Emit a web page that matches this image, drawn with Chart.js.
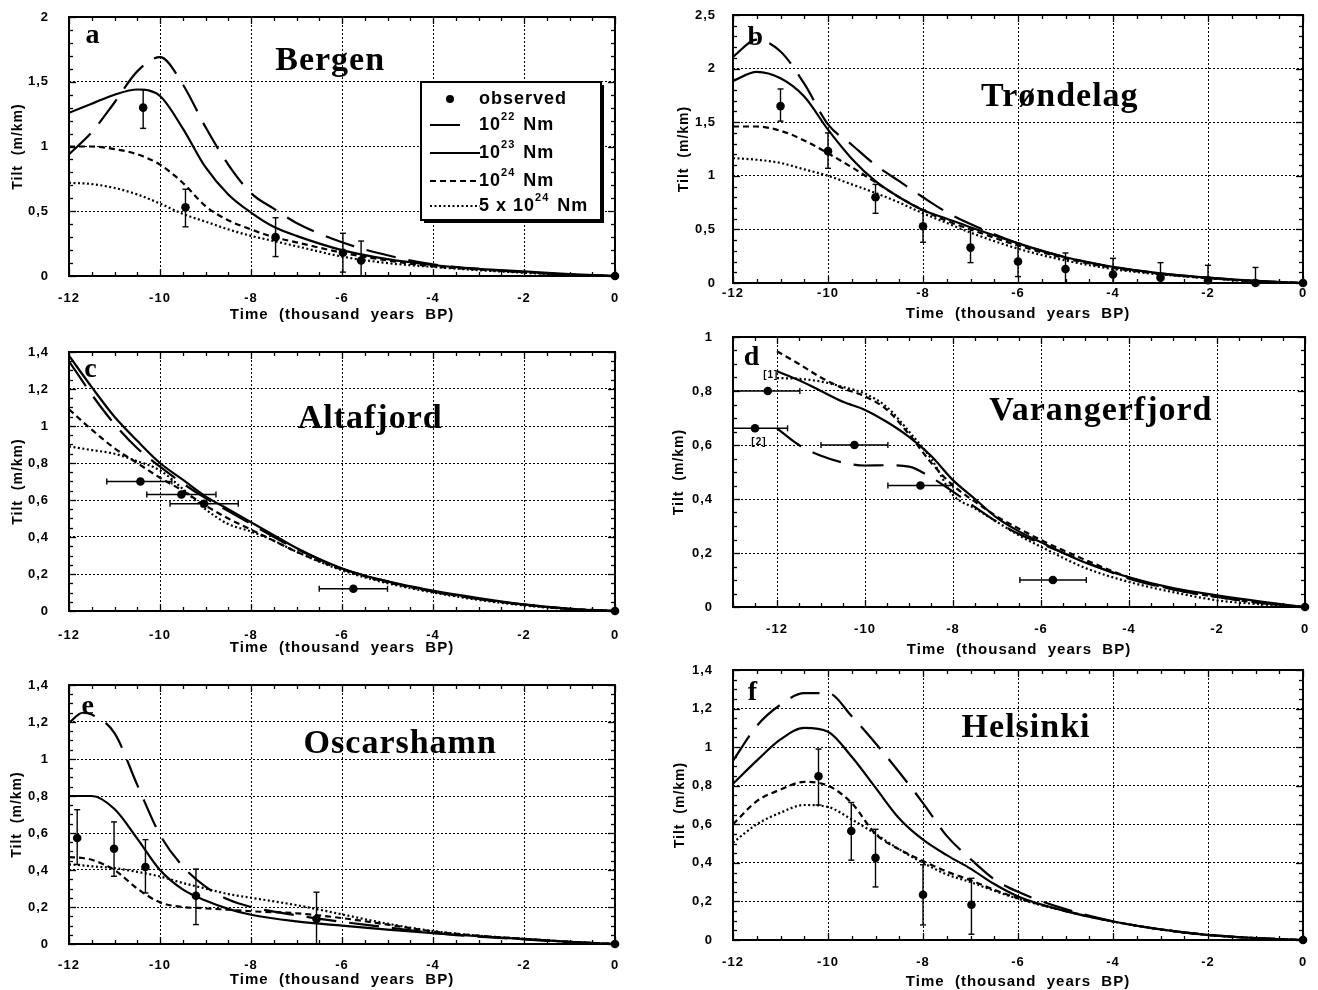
<!DOCTYPE html>
<html>
<head>
<meta charset="utf-8">
<title>Tilt vs time</title>
<script src="https://cdn.jsdelivr.net/npm/chart.js@4.4.1/dist/chart.umd.min.js"></script>
<style>
  html, body { margin: 0; padding: 0; background: #fff; }
  #page { position: relative; width: 1318px; height: 990px; overflow: hidden; background: #fff; }
  #page canvas { position: absolute; }
</style>
</head>
<body>
<div id="page"></div>
<script>
// ---- ticks ----
const xTicks12 = [-12, -10, -8, -6, -4, -2, 0];
const yTicks2 = [0, 0.5, 1, 1.5, 2];
const yTicks25 = [0, 0.5, 1, 1.5, 2, 2.5];
const yTicks14 = [0, 0.2, 0.4, 0.6, 0.8, 1, 1.2, 1.4];
const yTicks1 = [0, 0.2, 0.4, 0.6, 0.8, 1];

// ---- a: Bergen ----
const bergenX = [-12, -11.5, -11, -10.5, -10, -9.5, -9, -8.5, -8, -7.5, -7, -6, -5, -4, -3, -2, -1, 0];
const bergen22 = [0.94, 1.11, 1.34, 1.58, 1.69, 1.48, 1.15, 0.86, 0.64, 0.52, 0.41, 0.26, 0.16, 0.09, 0.055, 0.03, 0.01, 0];
const bergen23 = [1.26, 1.33, 1.40, 1.44, 1.39, 1.14, 0.84, 0.63, 0.49, 0.38, 0.31, 0.20, 0.13, 0.085, 0.055, 0.035, 0.015, 0];
const bergen24 = [1.0, 1.0, 0.98, 0.94, 0.86, 0.72, 0.54, 0.43, 0.36, 0.30, 0.26, 0.18, 0.12, 0.075, 0.05, 0.03, 0.01, 0];
const bergen5x24 = [0.72, 0.71, 0.68, 0.63, 0.56, 0.48, 0.42, 0.36, 0.31, 0.27, 0.23, 0.15, 0.10, 0.07, 0.045, 0.025, 0.01, 0];
const bergenObsX = [-10.37, -9.44, -7.46, -5.98, -5.58, 0];
const bergenObsY = [1.30, 0.53, 0.30, 0.18, 0.12, 0];
const bergenObsLo = [1.14, 0.38, 0.15, 0.03, 0.0, null];
const bergenObsHi = [1.44, 0.67, 0.45, 0.33, 0.27, null];

// ---- b: Trøndelag ----
const trondX = [-12, -11.5, -11, -10.5, -10, -9.5, -9, -8.5, -8, -7.5, -7, -6, -5, -4, -3, -2, -1, 0];
const trond22 = [2.11, 2.27, 2.16, 1.86, 1.48, 1.29, 1.10, 0.95, 0.80, 0.66, 0.55, 0.37, 0.24, 0.15, 0.09, 0.05, 0.02, 0];
const trond23 = [1.885, 1.97, 1.91, 1.74, 1.43, 1.16, 0.95, 0.80, 0.68, 0.60, 0.52, 0.37, 0.24, 0.15, 0.09, 0.05, 0.02, 0];
const trond24 = [1.46, 1.46, 1.42, 1.33, 1.21, 1.08, 0.94, 0.80, 0.68, 0.58, 0.50, 0.35, 0.23, 0.14, 0.085, 0.045, 0.015, 0];
const trond5x24 = [1.165, 1.15, 1.12, 1.06, 1.0, 0.92, 0.84, 0.75, 0.65, 0.56, 0.47, 0.32, 0.21, 0.13, 0.08, 0.045, 0.015, 0];
const trondObsX = [-11, -10, -9, -8, -7, -6, -5, -4, -3, -2, -1, 0];
const trondObsY = [1.65, 1.23, 0.80, 0.53, 0.33, 0.20, 0.13, 0.08, 0.05, 0.025, 0, 0];
const trondObsLo = [1.51, 1.07, 0.65, 0.38, 0.19, 0.06, 0, 0, 0, 0, 0, null];
const trondObsHi = [1.81, 1.40, 0.92, 0.68, 0.50, 0.37, 0.28, 0.23, 0.19, 0.165, 0.145, null];

// ---- c: Altafjord ----
const altaX = [-12, -11.5, -11, -10.5, -10, -9.5, -9, -8.5, -8, -7.5, -7, -6, -5, -4, -3, -2, -1, 0];
const alta22 = [1.35, 1.17, 1.01, 0.88, 0.78, 0.69, 0.61, 0.54, 0.47, 0.40, 0.335, 0.23, 0.16, 0.105, 0.065, 0.035, 0.012, 0];
const alta23 = [1.38, 1.21, 1.05, 0.92, 0.80, 0.71, 0.62, 0.55, 0.48, 0.41, 0.34, 0.23, 0.16, 0.11, 0.07, 0.036, 0.012, 0];
const alta24 = [1.09, 0.98, 0.88, 0.80, 0.72, 0.65, 0.57, 0.50, 0.44, 0.38, 0.32, 0.225, 0.155, 0.105, 0.065, 0.033, 0.012, 0];
const alta5x24 = [0.89, 0.87, 0.85, 0.81, 0.76, 0.66, 0.55, 0.47, 0.43, 0.38, 0.32, 0.22, 0.15, 0.10, 0.06, 0.03, 0.01, 0];
const altaObsX = [-10.43, -9.53, -9.03, -5.75, 0];
const altaObsY = [0.70, 0.63, 0.58, 0.12, 0];
const altaObsXLo = [-11.17, -10.29, -9.78, -6.5, null];
const altaObsXHi = [-9.74, -8.77, -8.28, -5.0, null];

// ---- d: Varangerfjord ----
const varX = [-12, -11.5, -11, -10.5, -10, -9.5, -9, -8.5, -8, -7.5, -7, -6.5, -6, -5, -4, -3, -2, -1, 0];
const var22 = [0.662, 0.60, 0.56, 0.535, 0.524, 0.525, 0.52, 0.48, 0.427, 0.37, 0.315, 0.27, 0.235, 0.167, 0.105, 0.065, 0.037, 0.015, 0];
const var23 = [0.873, 0.84, 0.80, 0.76, 0.73, 0.685, 0.63, 0.56, 0.47, 0.40, 0.33, 0.28, 0.24, 0.165, 0.11, 0.07, 0.043, 0.02, 0];
const var24 = [0.947, 0.90, 0.85, 0.81, 0.78, 0.73, 0.64, 0.535, 0.45, 0.39, 0.335, 0.29, 0.248, 0.175, 0.11, 0.065, 0.037, 0.015, 0];
const var5x24 = [0.848, 0.845, 0.835, 0.815, 0.79, 0.74, 0.65, 0.55, 0.415, 0.365, 0.315, 0.265, 0.223, 0.145, 0.093, 0.055, 0.025, 0.01, 0];
const varObsX = [-12.21, -12.5, -10.24, -8.74, -5.73, 0];
const varObsY = [0.80, 0.662, 0.60, 0.45, 0.10, 0];
const varObsXLo = [-13, -13, -11.0, -9.48, -6.48, null];
const varObsXHi = [-11.48, -11.76, -9.48, -8.0, -4.97, null];

// ---- e: Oscarshamn ----
const oscarX = [-12, -11.7, -11.5, -11, -10.5, -10, -9.5, -9, -8.5, -8, -7, -6, -5, -4, -3, -2, -1, 0];
const oscar22 = [1.195, 1.25, 1.24, 1.14, 0.86, 0.59, 0.42, 0.31, 0.24, 0.20, 0.155, 0.12, 0.09, 0.06, 0.04, 0.025, 0.01, 0];
const oscar23 = [0.80, 0.80, 0.80, 0.73, 0.57, 0.40, 0.295, 0.235, 0.19, 0.158, 0.122, 0.099, 0.078, 0.059, 0.042, 0.027, 0.012, 0];
const oscar24 = [0.47, 0.465, 0.455, 0.40, 0.30, 0.225, 0.20, 0.193, 0.185, 0.177, 0.166, 0.14, 0.105, 0.068, 0.045, 0.028, 0.012, 0];
const oscar5x24 = [0.43, 0.425, 0.42, 0.41, 0.39, 0.365, 0.33, 0.30, 0.27, 0.25, 0.21, 0.16, 0.11, 0.07, 0.045, 0.028, 0.012, 0];
const oscarObsX = [-11.82, -11.01, -10.32, -9.21, -6.56, 0];
const oscarObsY = [0.573, 0.515, 0.416, 0.261, 0.135, 0];
const oscarObsLo = [0.43, 0.366, 0.276, 0.105, 0.0, null];
const oscarObsHi = [0.726, 0.66, 0.564, 0.405, 0.28, null];

// ---- f: Helsinki ----
const helX = [-12, -11.5, -11, -10.5, -10, -9.5, -9, -8.5, -8, -7.5, -7, -6.5, -6, -5, -4, -3, -2, -1, 0];
const hel22 = [0.93, 1.11, 1.22, 1.28, 1.28, 1.16, 1.02, 0.87, 0.71, 0.54, 0.42, 0.315, 0.25, 0.16, 0.097, 0.055, 0.027, 0.01, 0];
const hel23 = [0.81, 0.93, 1.04, 1.10, 1.08, 0.95, 0.79, 0.63, 0.52, 0.44, 0.37, 0.29, 0.226, 0.15, 0.096, 0.055, 0.026, 0.01, 0];
const hel24 = [0.60, 0.72, 0.78, 0.82, 0.80, 0.71, 0.55, 0.47, 0.41, 0.355, 0.31, 0.26, 0.217, 0.15, 0.096, 0.055, 0.026, 0.01, 0];
const hel5x24 = [0.505, 0.60, 0.66, 0.70, 0.69, 0.625, 0.55, 0.47, 0.40, 0.34, 0.30, 0.255, 0.214, 0.15, 0.096, 0.055, 0.026, 0.01, 0];
const helObsX = [-10.2, -9.51, -9.0, -8.0, -6.98, 0];
const helObsY = [0.849, 0.565, 0.426, 0.235, 0.183, 0];
const helObsLo = [0.70, 0.414, 0.275, 0.078, 0.03, null];
const helObsHi = [0.99, 0.713, 0.574, 0.39, 0.32, null];

// ---- styles ----
const SANS = "'Liberation Sans', Arial, Helvetica, sans-serif";
const SERIF = "'Liberation Serif', 'Times New Roman', serif";
const MODELS = [
    {label: '10²² Nm', base: '10', sup: '22', dash: [30, 13]},
    {label: '10²³ Nm', base: '10', sup: '23', dash: []},
    {label: '10²⁴ Nm', base: '10', sup: '24', dash: [6, 4]},
    {label: '5 x 10²⁴ Nm', base: '5 x 10', sup: '24', dash: [2, 2.5]},
];
const LETTER_FONT = `bold 28px ${SERIF}`;
const NAME_FONT = `bold 34px ${SERIF}`;

// ---- panels (canvas box = left, top, width, height); layout padding top 30, right 26 ----
const PANELS = [
    {
        box: [0, -13, 641, 337], yW: 69, xH: 48, xMin: -12, yMax: 2, yTicks: yTicks2, yMinor: 0.1,
        xTickPad: 14.2, yTickPad: 20, yTitlePad: 9.6,
        curveX: bergenX, curves: [bergen22, bergen23, bergen24, bergen5x24],
        obs: {x: bergenObsX, y: bergenObsY, lo: bergenObsLo, hi: bergenObsHi},
        notes: [{text: 'a', x: -11.47, y: 1.80, font: LETTER_FONT}, {text: 'Bergen', x: -6.26, y: 1.59, font: NAME_FONT}],
        legend: true
    },
    {
        box: [663, -15, 666, 338], yW: 70, xH: 40, xMin: -12, yMax: 2.5, yTicks: yTicks25, yMinor: 0.1,
        xTickPad: 2.2, yTickPad: 17, yTitlePad: 12.6,
        curveX: trondX, curves: [trond22, trond23, trond24, trond5x24],
        obs: {x: trondObsX, y: trondObsY, lo: trondObsLo, hi: trondObsHi},
        notes: [{text: 'b', x: -11.52, y: 2.22, font: LETTER_FONT}, {text: 'Trøndelag', x: -5.12, y: 1.65, font: NAME_FONT}]
    },
    {
        box: [0, 322, 641, 335], yW: 69, xH: 46, xMin: -12, yMax: 1.4, yTicks: yTicks14, yMinor: 0.05,
        xTickPad: 16.2, yTickPad: 20, yTitlePad: 9.6,
        curveX: altaX, curves: [alta22, alta23, alta24, alta5x24],
        obs: {x: altaObsX, y: altaObsY, xlo: altaObsXLo, xhi: altaObsXHi},
        notes: [{text: 'c', x: -11.52, y: 1.265, font: LETTER_FONT}, {text: 'Altafjord', x: -5.38, y: 0.99, font: NAME_FONT}]
    },
    {
        box: [663, 307, 668, 352], yW: 70, xH: 52, xMin: -13, yMax: 1, yTicks: yTicks1, yMinor: 0.05,
        xTickPad: 14.2, yTickPad: 20, yTitlePad: 7.6,
        curveX: varX, curves: [var22, var23, var24, var5x24],
        obs: {x: varObsX, y: varObsY, xlo: varObsXLo, xhi: varObsXHi},
        notes: [
            {text: 'd', x: -12.57, y: 0.896, font: LETTER_FONT},
            {text: 'Varangerfjord', x: -4.64, y: 0.693, font: NAME_FONT},
            {text: '[1]', x: -12.14, y: 0.848, font: `bold 10px ${SANS}`},
            {text: '[2]', x: -12.41, y: 0.60, font: `bold 10px ${SANS}`}
        ]
    },
    {
        box: [0, 655, 641, 334], yW: 69, xH: 45, xMin: -12, yMax: 1.4, yTicks: yTicks14, yMinor: 0.05,
        xTickPad: 13.2, yTickPad: 20, yTitlePad: 8.6,
        curveX: oscarX, curves: [oscar22, oscar23, oscar24, oscar5x24],
        obs: {x: oscarObsX, y: oscarObsY, lo: oscarObsLo, hi: oscarObsHi},
        notes: [{text: 'e', x: -11.58, y: 1.244, font: LETTER_FONT}, {text: 'Oscarshamn', x: -4.72, y: 1.034, font: NAME_FONT}]
    },
    {
        box: [663, 640, 666, 351], yW: 70, xH: 51, xMin: -12, yMax: 1.4, yTicks: yTicks14, yMinor: 0.05,
        xTickPad: 14.2, yTickPad: 20, yTitlePad: 8.6,
        curveX: helX, curves: [hel22, hel23, hel24, hel5x24],
        obs: {x: helObsX, y: helObsY, lo: helObsLo, hi: helObsHi},
        notes: [{text: 'f', x: -11.58, y: 1.244, font: LETTER_FONT}, {text: 'Helsinki', x: -5.83, y: 1.052, font: NAME_FONT}]
    },
];

function seg(ctx, x1, y1, x2, y2) {
    ctx.beginPath();
    ctx.moveTo(x1, y1);
    ctx.lineTo(x2, y2);
    ctx.stroke();
}

// рамка + дрібні поділки по всіх сторонах
function drawFrame(chart, p) {
    const {ctx, chartArea: a, scales: {x, y}} = chart;
    ctx.save();
    ctx.strokeStyle = '#000';
    ctx.lineWidth = 1.3;
    for (let v = p.xMin; v <= 0.001; v += 0.5) {
        const px = Math.round(x.getPixelForValue(v)) + 0.5;
        const len = xTicks12.includes(v) ? 7 : 4;
        seg(ctx, px, a.bottom, px, a.bottom - len);
        seg(ctx, px, a.top, px, a.top + len);
    }
    const steps = Math.round(p.yMax / p.yMinor);
    for (let k = 0; k <= steps; k++) {
        const v = k * p.yMinor;
        const py = Math.round(y.getPixelForValue(v)) + 0.5;
        const len = p.yTicks.some(t => Math.abs(t - v) < 1e-6) ? 7 : 4;
        seg(ctx, a.left, py, a.left + len, py);
        seg(ctx, a.right, py, a.right - len, py);
    }
    ctx.lineWidth = 2;
    ctx.strokeRect(a.left, a.top, a.right - a.left, a.bottom - a.top);
    ctx.restore();
}

function drawErrors(chart, p) {
    const {ctx, scales: {x, y}} = chart;
    const o = p.obs;
    ctx.save();
    ctx.strokeStyle = '#000';
    ctx.lineWidth = 1.4;
    o.x.forEach((vx, i) => {
        const px = x.getPixelForValue(vx), py = y.getPixelForValue(o.y[i]);
        if (o.lo && o.lo[i] != null) {
            const y1 = y.getPixelForValue(o.lo[i]), y2 = y.getPixelForValue(o.hi[i]);
            seg(ctx, px, y1, px, y2);
            seg(ctx, px - 3, y1, px + 3, y1);
            seg(ctx, px - 3, y2, px + 3, y2);
        }
        if (o.xlo && o.xlo[i] != null) {
            const x1 = x.getPixelForValue(o.xlo[i]), x2 = x.getPixelForValue(o.xhi[i]);
            seg(ctx, x1, py, x2, py);
            seg(ctx, x1, py - 3, x1, py + 3);
            seg(ctx, x2, py - 3, x2, py + 3);
        }
    });
    ctx.restore();
}

function drawNotes(chart, p) {
    const {ctx, scales: {x, y}} = chart;
    ctx.save();
    ctx.fillStyle = '#000';
    ctx.textAlign = 'center';
    ctx.textBaseline = 'alphabetic';
    ctx.letterSpacing = '1px';
    p.notes.forEach(n => {
        ctx.font = n.font;
        ctx.fillText(n.text, x.getPixelForValue(n.x), y.getPixelForValue(n.y));
    });
    ctx.restore();
}

// легенда всередині панелі a
function drawLegend(chart) {
    const {ctx, chartArea: a} = chart;
    const bx = a.left + 352, by = a.top + 65, bw = 180, bh = 138;
    ctx.save();
    ctx.fillStyle = '#000';
    ctx.fillRect(bx + 3, by + 3, bw, bh);
    ctx.fillStyle = '#fff';
    ctx.fillRect(bx, by, bw, bh);
    ctx.strokeStyle = '#000';
    ctx.lineWidth = 2;
    ctx.strokeRect(bx, by, bw, bh);

    const rows = [82, 108, 136, 164, 189].map(r => a.top + r);
    const tx = a.left + 410;
    ctx.fillStyle = '#000';
    ctx.textBaseline = 'middle';
    ctx.textAlign = 'left';
    ctx.letterSpacing = '1px';

    ctx.beginPath();
    ctx.arc(a.left + 381, rows[0], 4, 0, Math.PI * 2);
    ctx.fill();
    ctx.font = `bold 18px ${SANS}`;
    ctx.fillText('observed', tx, rows[0]);

    MODELS.forEach((m, i) => {
        const ry = rows[i + 1];
        ctx.setLineDash(m.dash);
        ctx.lineWidth = 2;
        seg(ctx, a.left + 361, ry, a.left + (i === 0 ? 395 : 411), ry);
        ctx.setLineDash([]);
        ctx.font = `bold 18px ${SANS}`;
        ctx.fillText(m.base, tx, ry);
        let cx = tx + ctx.measureText(m.base).width;
        ctx.font = `bold 11px ${SANS}`;
        ctx.fillText(m.sup, cx, ry - 8);
        cx += ctx.measureText(m.sup).width + 2;
        ctx.font = `bold 18px ${SANS}`;
        ctx.fillText(' Nm', cx, ry);
    });
    ctx.restore();
}

function buildPanel(p) {
    const page = document.getElementById('page');
    const cv = document.createElement('canvas');
    cv.width = p.box[2];
    cv.height = p.box[3];
    cv.style.left = p.box[0] + 'px';
    cv.style.top = p.box[1] + 'px';
    page.appendChild(cv);

    const datasets = p.curves.map((ys, i) => ({
        label: MODELS[i].label,
        data: p.curveX.map((x, j) => ({x, y: ys[j]})),
        borderColor: '#000',
        borderWidth: 2.2,
        borderDash: MODELS[i].dash,
        pointRadius: 0,
        fill: false,
        cubicInterpolationMode: 'monotone',
    }));
    datasets.push({
        label: 'observed',
        data: p.obs.x.map((x, j) => ({x, y: p.obs.y[j]})),
        showLine: false,
        pointRadius: 4.3,
        pointBackgroundColor: '#000',
        pointBorderColor: '#000',
        pointBorderWidth: 0,
        clip: false,
        order: -1,
    });

    const tickFont = {family: SANS, size: 13, weight: 'bold'};

    new Chart(cv, {
        type: 'line',
        data: {datasets},
        options: {
            responsive: false,
            animation: false,
            devicePixelRatio: 1,
            events: [],
            layout: {padding: {top: 30, right: 26, left: 0, bottom: 0}},
            plugins: {legend: {display: false}, tooltip: {enabled: false}},
            scales: {
                x: {
                    type: 'linear', min: p.xMin, max: 0,
                    afterBuildTicks: s => { s.ticks = xTicks12.map(v => ({value: v})); },
                    afterFit: s => { s.height = p.xH; },
                    grid: {color: '#000', lineWidth: 1, drawTicks: false},
                    border: {display: false, dash: [2, 2]},
                    ticks: {color: '#000', font: tickFont, padding: p.xTickPad, autoSkip: false, maxRotation: 0,
                        callback: v => String(v)},
                    title: {display: true, text: 'Time  (thousand  years  BP)', color: '#000',
                        font: {family: SANS, size: 15, weight: 'bold'}, padding: {top: 0, bottom: 0}}
                },
                y: {
                    type: 'linear', min: 0, max: p.yMax,
                    afterBuildTicks: s => { s.ticks = p.yTicks.map(v => ({value: v})); },
                    afterFit: s => { s.width = p.yW; },
                    grid: {color: '#000', lineWidth: 1, drawTicks: false},
                    border: {display: false, dash: [2, 2]},
                    ticks: {color: '#000', font: tickFont, padding: p.yTickPad,
                        callback: v => String(v).replace('.', ',')},
                    title: {display: true, text: 'Tilt  (m/km)', color: '#000',
                        font: {family: SANS, size: 14, weight: 'bold'}, padding: {top: p.yTitlePad, bottom: 0}}
                }
            }
        },
        plugins: [{
            id: 'decor',
            beforeLayout: chart => { chart.ctx.letterSpacing = '1px'; },
            beforeDraw: chart => { chart.ctx.letterSpacing = '1px'; },
            beforeDatasetsDraw: chart => drawFrame(chart, p),
            afterDatasetsDraw: chart => drawErrors(chart, p),
            afterDraw: chart => {
                drawNotes(chart, p);
                if (p.legend) drawLegend(chart);
            }
        }]
    });
}

PANELS.forEach(buildPanel);
</script>
</body>
</html>
